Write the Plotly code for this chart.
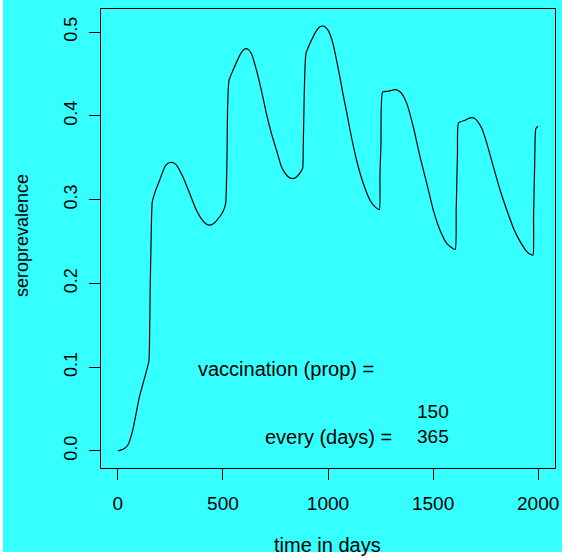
import plotly.graph_objects as go

# Seroprevalence over time under periodic vaccination
time_days = [0, 25, 48, 71, 103, 148, 151, 154, 159, 164, 180, 199, 223, 237, 250, 264,
             278, 310, 342, 374, 405, 421, 437, 453, 469, 500, 513, 517, 520, 522, 529,
             548, 580, 595, 609, 622, 636, 660, 683, 707, 731, 755, 779, 803, 817, 831,
             845, 858, 879, 882, 887, 895, 914, 946, 960, 974, 988, 1001, 1013, 1025,
             1041, 1057, 1072, 1089, 1104, 1136, 1168, 1200, 1224, 1244, 1247, 1252,
             1260, 1287, 1303, 1319, 1335, 1351, 1375, 1406, 1438, 1470, 1501, 1533,
             1565, 1585, 1605, 1610, 1616, 1621, 1652, 1668, 1684, 1696, 1708, 1732,
             1756, 1787, 1819, 1851, 1883, 1915, 1947, 1962, 1975, 1978, 1983, 1989,
             1999]
seroprevalence = [0.0, 0.002, 0.0072, 0.0250, 0.0648, 0.1077, 0.1363, 0.1920, 0.2600,
                  0.2973, 0.3110, 0.3232, 0.3390, 0.3430, 0.3443, 0.3440, 0.3415,
                  0.3271, 0.3073, 0.2874, 0.2746, 0.2708, 0.2695, 0.2710, 0.2746,
                  0.2854, 0.2954, 0.3192, 0.3589, 0.4066, 0.4424, 0.4543, 0.4722,
                  0.4778, 0.4802, 0.4790, 0.4742, 0.4543, 0.4305, 0.4027, 0.3788,
                  0.3589, 0.3390, 0.3291, 0.3262, 0.3252, 0.3262, 0.3291, 0.3371,
                  0.3589, 0.4265, 0.4742, 0.4862, 0.5020, 0.5060, 0.5072, 0.5058,
                  0.5020, 0.4950, 0.4850, 0.4660, 0.4455, 0.4252, 0.4040, 0.3840,
                  0.3470, 0.3192, 0.2993, 0.2913, 0.2882, 0.3271, 0.3669, 0.4285,
                  0.4293, 0.4305, 0.4313, 0.4300, 0.4265, 0.4146, 0.3867, 0.3509,
                  0.3192, 0.2874, 0.2635, 0.2477, 0.2432, 0.2405, 0.2874, 0.3550,
                  0.3915, 0.3947, 0.3968, 0.3979, 0.3972, 0.3947, 0.3848, 0.3669,
                  0.3390, 0.3112, 0.2874, 0.2656, 0.2496, 0.2377, 0.2348, 0.2337,
                  0.2794, 0.3390, 0.3848, 0.3875]

x_ticks = [0, 500, 1000, 1500, 2000]
y_ticks = [0.0, 0.1, 0.2, 0.3, 0.4, 0.5]
y_tick_labels = ["0.0", "0.1", "0.2", "0.3", "0.4", "0.5"]

vaccination_prop = "150"
every_days = "365"

BG = "#36FFFF"
FONT = "Liberation Sans, Arial, sans-serif"

W, H = 562, 558
ML, MR, MT, MB = 101, 7, 9, 90
PW, PH = W - ML - MR, H - MT - MB


def px_x(px):
    return (px - ML) / PW


def px_y(py):
    return (H - MB - py) / PH


fig = go.Figure()
fig.add_trace(go.Scatter(x=time_days, y=seroprevalence, mode="lines",
                         line=dict(color="black", width=1.2, shape="spline",
                                   smoothing=0.5),
                         hoverinfo="skip"))

axis_common = dict(showgrid=False, zeroline=False, showline=True, mirror=True,
                   linecolor="black", linewidth=1, ticks="outside", ticklen=11,
                   tickwidth=1, tickcolor="black", automargin=False)

fig.update_xaxes(range=[-80, 2080], tickvals=x_ticks, ticklabelstandoff=7,
                 tickfont=dict(family=FONT, size=19, color="black"), **axis_common)
fig.update_yaxes(range=[-0.0203, 0.5275], tickvals=y_ticks, ticktext=y_tick_labels,
                 tickangle=-90, ticklabelstandoff=5,
                 tickfont=dict(family=FONT, size=18, color="black"), **axis_common)

word_font = dict(family=FONT, size=20, color="black")
num_font = dict(family=FONT, size=19, color="black")
annotations = [
    dict(x=800, y=0.098, xref="x", yref="y", text="vaccination (prop) =",
         showarrow=False, font=word_font, xanchor="center", yanchor="middle"),
    dict(x=1500, y=0.047, xref="x", yref="y", text=vaccination_prop,
         showarrow=False, font=num_font, xanchor="center", yanchor="middle"),
    dict(x=1000, y=0.017, xref="x", yref="y", text="every (days) =",
         showarrow=False, font=word_font, xanchor="center", yanchor="middle"),
    dict(x=1500, y=0.017, xref="x", yref="y", text=every_days,
         showarrow=False, font=num_font, xanchor="center", yanchor="middle"),
    dict(x=px_x(327.5), y=px_y(545), xref="paper", yref="paper", text="time in days",
         showarrow=False, font=word_font, xanchor="center", yanchor="middle"),
    dict(x=px_x(22), y=px_y(236), xref="paper", yref="paper", text="seroprevalence",
         textangle=-90, showarrow=False,
         font=dict(family=FONT, size=18, color="black"),
         xanchor="center", yanchor="middle"),
]

# white page edge on the left and along the bottom
shapes = [
    dict(type="rect", xref="paper", yref="paper", layer="below",
         x0=px_x(-5), x1=px_x(3), y0=px_y(H + 5), y1=px_y(-5),
         fillcolor="white", line=dict(width=0)),
    dict(type="rect", xref="paper", yref="paper", layer="below",
         x0=px_x(-5), x1=px_x(W + 5), y0=px_y(H + 5), y1=px_y(552),
         fillcolor="white", line=dict(width=0)),
]

fig.update_layout(width=W, height=H, margin=dict(l=ML, r=MR, t=MT, b=MB, pad=0),
                  paper_bgcolor=BG, plot_bgcolor=BG, showlegend=False,
                  annotations=annotations, shapes=shapes)

fig.write_html("out.html")
